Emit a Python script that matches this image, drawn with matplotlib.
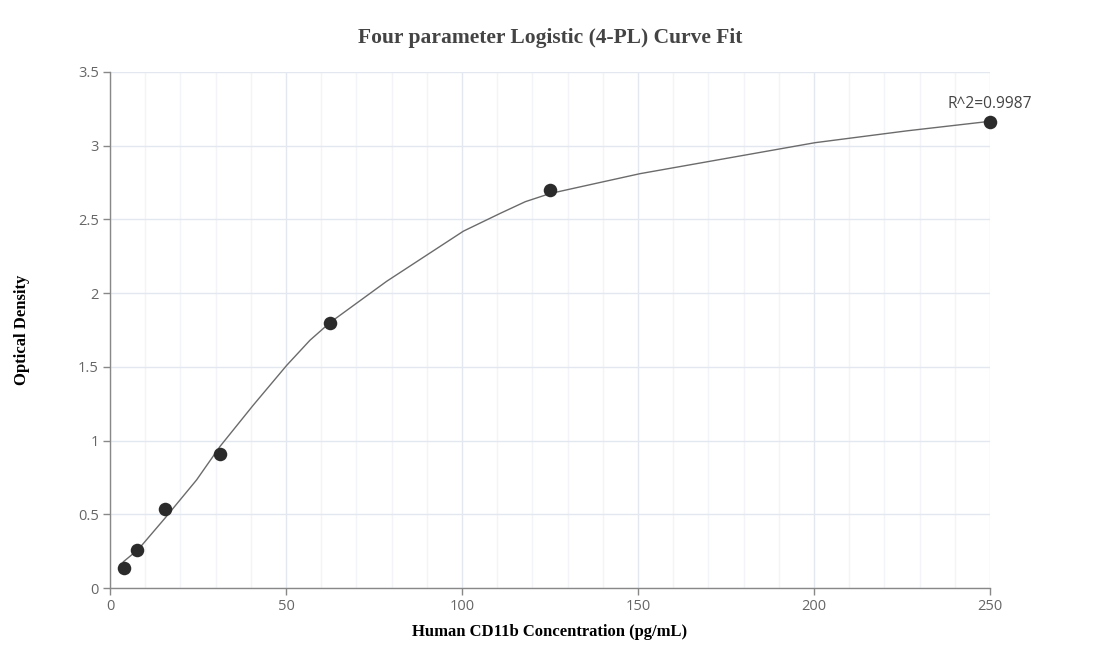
import matplotlib
matplotlib.use('Agg')
import matplotlib.pyplot as plt
from matplotlib.ticker import MultipleLocator

# standards
conc = [3.9, 7.8, 15.6, 31.25, 62.5, 125, 250]
od = [0.134, 0.26, 0.536, 0.909, 1.80, 2.70, 3.16]

# fitted curve
fit_x = [3.8, 8.05, 15.6, 24.6, 31.25, 40.7, 50.2, 56.8, 62.5, 78.6, 100.4,
         110.8, 118, 125, 133.5, 150.6, 179, 200.3, 226.3, 250]
fit_y = [0.178, 0.262, 0.473, 0.733, 0.96, 1.24, 1.51, 1.68, 1.80, 2.08, 2.42,
         2.54, 2.62, 2.675, 2.72, 2.81, 2.93, 3.02, 3.10, 3.165]

r2_label = 'R^2=0.9987'

fig = plt.figure(figsize=(11, 6.72), dpi=100)
ax = fig.add_axes([0.1, 0.125, 0.8, 0.768])

ax.plot(fit_x, fit_y, color='#6b6b6b', lw=1.0, zorder=3, clip_on=False)
ax.scatter(conc, od, s=95, color='#2b2b2b', zorder=4, linewidths=0, clip_on=False)
ax.annotate(r2_label, (conc[-1], od[-1]), xytext=(0, 7), textcoords='offset points',
            ha='center', va='bottom', fontsize=11.2, color='#444444', family='Open Sans')

ax.set_xlim(0, 250)
ax.set_ylim(0, 3.5)
ax.xaxis.set_major_locator(MultipleLocator(50))
ax.xaxis.set_minor_locator(MultipleLocator(10))
ax.set_yticks([0, 0.5, 1, 1.5, 2, 2.5, 3, 3.5])
ax.set_yticklabels(['0', '0.5', '1', '1.5', '2', '2.5', '3', '3.5'])

ax.grid(which='major', color='#e3e7f0', lw=1.0, zorder=0)
ax.grid(which='minor', axis='x', color='#f2f4f8', lw=1.0, zorder=0)
ax.set_axisbelow(True)

for s in ['top', 'right']:
    ax.spines[s].set_visible(False)
for s in ['left', 'bottom']:
    ax.spines[s].set_color('#888888')
    ax.spines[s].set_linewidth(1.0)

ax.tick_params(which='major', length=5, width=1, color='#888888', labelcolor='#666666',
               labelsize=10.5, pad=3)
ax.tick_params(which='minor', length=0)
for lab in ax.get_xticklabels() + ax.get_yticklabels():
    lab.set_family('Open Sans')

fig.text(0.5, 1 - 38 / 672, 'Four parameter Logistic (4-PL) Curve Fit', ha='center',
         va='center', family='Liberation Serif', weight='bold', fontsize=15.5, color='#444444')
fig.text(0.5, 1 - 632 / 672, 'Human CD11b Concentration (pg/mL)', ha='center', va='center',
         family='Liberation Serif', weight='bold', fontsize=12, color='#000000')
fig.text(22 / 1100, 1 - 330 / 672, 'Optical Density', ha='center', va='center', rotation=90,
         family='Liberation Serif', weight='bold', fontsize=12, color='#000000')

fig.savefig('out.png', dpi=100)
